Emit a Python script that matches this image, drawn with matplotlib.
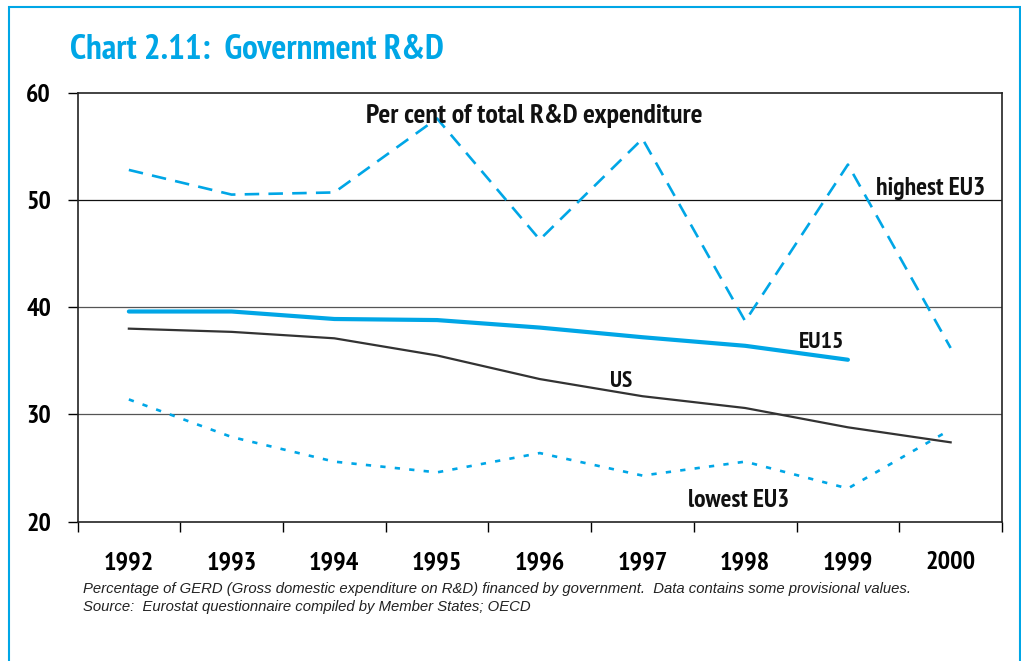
import matplotlib
matplotlib.use("Agg")
import matplotlib.pyplot as plt
from matplotlib.patches import Rectangle
from matplotlib import font_manager
from matplotlib.font_manager import FontProperties

years = ["1992", "1993", "1994", "1995", "1996", "1997", "1998", "1999", "2000"]
highest_eu3 = [52.8, 50.5, 50.7, 57.6, 46.3, 55.7, 38.7, 53.3, 36.2]
eu15 = [39.6, 39.6, 38.9, 38.8, 38.1, 37.2, 36.4, 35.1]
us = [38.0, 37.7, 37.1, 35.5, 33.3, 31.7, 30.6, 28.8, 27.4]
lowest_eu3 = [31.4, 27.9, 25.6, 24.6, 26.4, 24.3, 25.6, 23.1, 28.6]
y_ticks = [20, 30, 40, 50, 60]

CYAN = "#00A6E6"


def find_condensed_bold():
    best = None
    for f in font_manager.fontManager.ttflist:
        fn = f.fname.lower()
        if ("condensed" in fn or "narrow" in fn) and ("bold" in fn) and "oblique" not in fn and "italic" not in fn:
            score = 0
            if "dejavusanscondensed-bold" in fn.replace(" ", ""):
                score = 1
            if "narrow" in fn or "roboto" in fn:
                score = 2
            if best is None or score > best[0]:
                best = (score, f)
    return best[1] if best else None


entry = find_condensed_bold()
if entry is not None:
    plt.rcParams["font.family"] = [entry.name, "DejaVu Sans"]
    plt.rcParams["font.weight"] = entry.weight
    plt.rcParams["font.stretch"] = entry.stretch
    COND = FontProperties(fname=entry.fname)
else:
    plt.rcParams["font.weight"] = "bold"
    COND = FontProperties(family="DejaVu Sans", weight="bold")

names = {f.name for f in font_manager.fontManager.ttflist}
SANS = "Liberation Sans" if "Liberation Sans" in names else "DejaVu Sans"

W, H = 1021, 661
fig = plt.figure(figsize=(W / 100, H / 100), dpi=100)
fig.patch.set_facecolor("white")
r = fig.canvas.get_renderer()


def size_for(s, target, fp):
    fp2 = fp.copy()
    fp2.set_size(20)
    t = fig.text(0, 0, s, fontproperties=fp2)
    w = t.get_window_extent(r).width
    t.remove()
    return 20 * target / w


fig.patches.append(Rectangle((9 / W, -0.05), (1020 - 9) / W, 1.05 - 7 / H,
                             transform=fig.transFigure, fill=False,
                             edgecolor=CYAN, linewidth=1.5))

xsize = size_for("1992", 50, COND)
ysize = size_for("60", 25, COND)

ax = fig.add_axes([77.5 / W, 1 - 521.7 / H, (1002 - 77.5) / W, (521.7 - 92.7) / H])
x = list(range(len(years)))

ax.plot(x, highest_eu3, color=CYAN, lw=1.9, dashes=(5.5, 3.5))
ax.plot(x[:len(eu15)], eu15, color=CYAN, lw=3.0, solid_capstyle="round")
ax.plot(x, us, color="#333333", lw=1.6)
ax.plot(x, lowest_eu3, color=CYAN, lw=1.9, dashes=(2, 3.5))

ax.set_xlim(-0.5, len(years) - 0.5)
ax.set_ylim(20, 60)
for yv in [30, 40, 50]:
    ax.axhline(yv, color="#555555" if yv != 50 else "#111111", lw=0.9, zorder=0)

ax.tick_params(axis="x", which="major", direction="out", length=7, width=1, color="black",
               labelbottom=False)
ax.tick_params(axis="x", which="minor", length=0, pad=21, labelsize=xsize)
ax.tick_params(axis="y", direction="out", length=7, width=1, pad=12, labelsize=ysize)
ax.set_xticks([i - 0.5 for i in range(len(years) + 1)])
ax.set_xticks(x, labels=years, minor=True)
ax.set_yticks(y_ticks, labels=[str(v) for v in y_ticks])
for s in ax.spines.values():
    s.set_linewidth(1.2)
    s.set_color("#222222")


def lbl(xv, yv, s, ha, target):
    fp = COND.copy()
    fp.set_size(size_for(s, target, COND))
    return ax.text(xv, yv, s, ha=ha, va="center", fontproperties=fp, color="#111111")


lbl(3.95, 57.8, "Per cent of total R&D expenditure", "center", 336)
lbl(7.27, 51.1, "highest EU3", "left", 109)
lbl(6.74, 36.7, "EU15", "center", 45)
lbl(4.79, 33.1, "US", "center", 22)
lbl(5.94, 22.0, "lowest EU3", "center", 101)

tfp = COND.copy()
tfp.set_size(size_for("Chart 2.11:  Government R&D", 375, COND))
fig.text(70 / W, 1 - 50 / H, "Chart 2.11:  Government R&D", ha="left", va="center",
         fontproperties=tfp, color=CYAN)

line1 = "Percentage of GERD (Gross domestic expenditure on R&D) financed by government.  Data contains some provisional values."
line2 = "Source:  Eurostat questionnaire compiled by Member States; OECD"
ffp = FontProperties(family=SANS, style="italic", weight="normal", stretch="normal")
fsize = size_for(line1, 827, ffp)
ffp.set_size(fsize)
fig.text(83 / W, 1 - 589 / H, line1, ha="left", va="center", fontproperties=ffp, color="#222222")
fig.text(83 / W, 1 - 607 / H, line2, ha="left", va="center", fontproperties=ffp.copy(), color="#222222")

fig.savefig("out.png", dpi=100, facecolor="white")
